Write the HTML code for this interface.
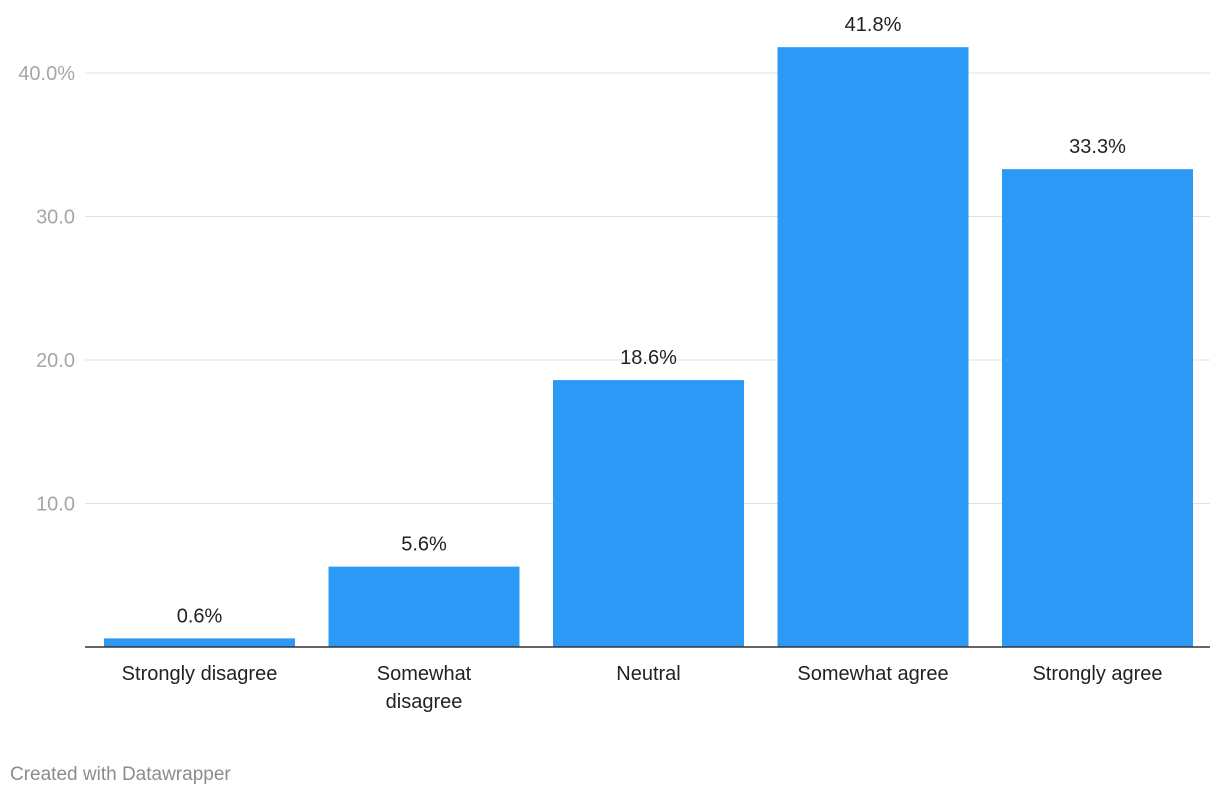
<!DOCTYPE html>
<html><head><meta charset="utf-8"><style>
body{margin:0;background:#fff;width:1220px;height:796px;overflow:hidden;font-family:"Liberation Sans",sans-serif}
svg text{font-family:"Liberation Sans",sans-serif}
</style></head><body>
<svg id="chart" width="1220" height="796" xmlns="http://www.w3.org/2000/svg">
<g id="grid"></g><g id="bars"></g>
<text x="10" y="780" font-size="19" fill="#8c8c8c">Created with Datawrapper</text>
</svg>
<script>
const categories=[["Strongly disagree"],["Somewhat","disagree"],["Neutral"],["Somewhat agree"],["Strongly agree"]];
const values=[0.6,5.6,18.6,41.8,33.3];
const ticks=[10,20,30,40];
const tickLabels=["10.0","20.0","30.0","40.0%"];
const NS="http://www.w3.org/2000/svg";
const y0=647,pxPer=14.35;
const y=v=>y0-v*pxPer;
const x=i=>104+i*224.5;
const bw=191;
const grid=document.getElementById('grid'),bars=document.getElementById('bars');
function mk(t,a,p){const e=document.createElementNS(NS,t);for(const k in a)e.setAttribute(k,a[k]);p.appendChild(e);return e;}
ticks.forEach((t,i)=>{
 const l=mk('line',{x1:85,x2:1210,y1:y(t),y2:y(t),stroke:'#e0e0e0','stroke-width':1},grid);
 
 
 const tx=mk('text',{x:75,y:y(t)+7,'font-size':20,fill:'#a6a6a6','text-anchor':'end'},grid);
 tx.textContent=tickLabels[i];
 
 
});
values.forEach((v,i)=>{
 const r=mk('rect',{x:x(i),y:y(v),width:bw,height:y0-y(v),fill:'#2c99f6'},bars);
 
 
 const t=mk('text',{x:x(i)+bw/2,y:y(v)-16,'font-size':20,fill:'#222','text-anchor':'middle'},bars);
 t.textContent=v.toFixed(1)+'%';
 
 
 categories[i].forEach((line,j)=>{
  const c=mk('text',{x:x(i)+bw/2,y:680+j*28,'font-size':20,fill:'#222','text-anchor':'middle'},bars);
  c.textContent=line;
  
  
 });
});
const ax=mk('line',{x1:85,x2:1210,y1:y0,y2:y0,stroke:'#333','stroke-width':1.5},bars);


</script>
</body></html>
